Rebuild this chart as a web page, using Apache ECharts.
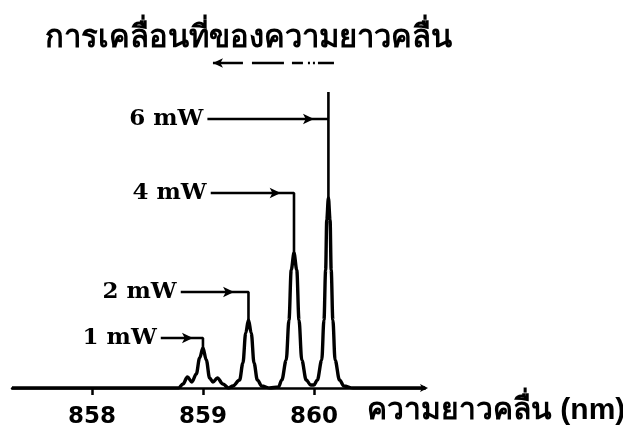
<!DOCTYPE html>
<html>
<head>
<meta charset="utf-8">
<script src="https://cdn.jsdelivr.net/npm/echarts@6.0.0/dist/echarts.min.js"></script>
<style>
  html, body { margin: 0; padding: 0; background: #fff; }
  #chart { width: 623px; height: 436px; }
</style>
</head>
<body>
<div id="chart"></div>
<script>
// spectrum: wavelength (nm) and relative intensity
var wavelength = [857.28, 858.78, 858.82, 858.86, 858.9, 858.94, 858.97, 859.0, 859.03, 859.06, 859.09, 859.13, 859.18, 859.23,
    859.27, 859.33, 859.36, 859.385, 859.41, 859.435, 859.46, 859.49, 859.53, 859.6,
    859.68, 859.71, 859.75, 859.775, 859.795, 859.82, 859.845, 859.865, 859.89, 859.93, 859.97, 860.0,
    860.03, 860.07, 860.09, 860.105, 860.115, 860.13, 860.145, 860.155, 860.17, 860.19, 860.23, 860.27, 860.35, 861.0];
var intensity = [0, 0, 4, 11, 6, 14, 30, 40, 28, 10, 6, 10, 4, 0,
    2, 8, 25, 55, 68, 55, 25, 8, 2, 0,
    1, 8, 28, 68, 118, 135, 118, 68, 28, 8, 3, 3,
    8, 28, 68, 118, 168, 190, 168, 118, 68, 28, 8, 2, 0, 0];

var tickValues = [858, 859, 860];

// power labels and the pointers to each peak
var powerLabels = ['1 mW', '2 mW', '4 mW', '6 mW'];
var peakNm = [859.0, 859.41, 859.82, 860.13];
var peakTop = [40, 68, 135, 190];
var pointerFrom = [858.62, 858.80, 859.07, 859.04];
var pointerLevel = [50, 96, 195, 269];
var arrowAt = [858.91, 859.28, 859.70, 860.0];
var markerTop = [null, null, null, 296];

// shift arrow under the title
var shiftFrom = 860.18, shiftTo = 859.09, shiftLevel = 325;

var title = 'การเคลื่อนที่ของความยาวคลื่น';
var axisName = 'ความยาวคลื่น (nm)';

var chart = echarts.init(document.getElementById('chart'));

var spectrum = wavelength.map(function (w, i) { return [w, intensity[i]]; });

var series = [{
    type: 'line',
    data: spectrum,
    smooth: 0.35,
    smoothMonotone: 'x',
    showSymbol: false,
    lineStyle: { color: '#000', width: 3.4 },
    z: 3
}];

powerLabels.forEach(function (name, i) {
    var pts = [
        { value: [pointerFrom[i], pointerLevel[i]],
          label: { show: true, position: 'left', distance: 4, formatter: name,
                   fontFamily: 'DejaVu Serif', fontWeight: 'bold', fontSize: 23, color: '#000' } },
        { value: [arrowAt[i], pointerLevel[i]], symbol: 'arrow', symbolSize: [8, 11], symbolRotate: -90 },
        [peakNm[i], pointerLevel[i]]
    ];
    if (markerTop[i] != null) {
        pts.push([peakNm[i], markerTop[i]]);
    }
    pts.push([peakNm[i], peakTop[i]]);
    series.push({
        type: 'line',
        data: pts,
        symbol: 'circle',
        symbolSize: 0.1,
        showSymbol: true,
        showAllSymbol: true,
        lineStyle: { color: '#000', width: 2.6 },
        itemStyle: { color: '#000' },
        z: 4
    });
});

series.push({
    type: 'line',
    data: [
        { value: [shiftTo, shiftLevel], symbol: 'arrow', symbolSize: [7, 10], symbolRotate: 90 },
        [shiftFrom, shiftLevel]
    ],
    symbol: 'none',
    lineStyle: { color: '#000', width: 2.5, type: [30, 9, 32, 8, 11, 5, 2, 3, 2, 3] },
    itemStyle: { color: '#000' },
    z: 4
});

option = {
    animation: false,
    backgroundColor: '#fff',
    title: {
        text: title,
        left: 40,
        top: 18,
        textStyle: { fontSize: 31, fontWeight: 'bold', color: '#000', fontFamily: 'sans-serif' }
    },
    grid: { left: 12, right: 198, top: 48, bottom: 48, containLabel: false, outerBoundsMode: 'none' },
    xAxis: {
        type: 'value',
        min: 857.28,
        max: 861.0,
        axisLine: { show: true, symbol: ['none', 'arrow'], symbolSize: [6, 8], symbolOffset: [0, 3],
                    lineStyle: { color: '#000', width: 2.5 } },
        axisTick: { show: true, inside: false, length: 7, customValues: tickValues,
                    lineStyle: { color: '#000', width: 2.5 } },
        axisLabel: { customValues: tickValues, margin: 18, color: '#000', fontSize: 23,
                     fontWeight: 'bold', fontFamily: 'DejaVu Sans' },
        splitLine: { show: false }
    },
    yAxis: {
        type: 'value',
        min: 0,
        max: 340,
        show: false
    },
    graphic: [{
        type: 'text',
        left: 367,
        top: 396,
        style: { text: axisName, fontSize: 30, fontWeight: 'bold', fill: '#000', fontFamily: 'sans-serif' }
    }],
    series: series
};

chart.setOption(option);
</script>
</body>
</html>
